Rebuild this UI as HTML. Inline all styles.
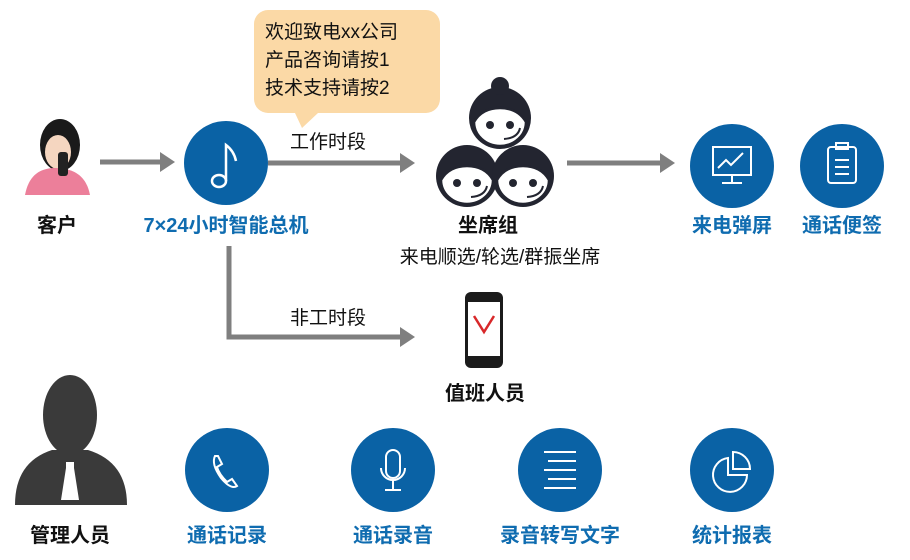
<!DOCTYPE html>
<html><head><meta charset="utf-8"><style>
html,body{margin:0;padding:0;background:#fff;}
svg{display:block;}
text{font-family:"Liberation Sans","Noto Sans CJK SC",sans-serif;}
.b{font-weight:bold;font-size:20px;text-anchor:middle;}
.k{fill:#111;}
.bl{fill:#0f6cb0;}
.n{font-size:19px;fill:#111;}
</style></head><body>
<svg width="910" height="560" viewBox="0 0 910 560" xmlns="http://www.w3.org/2000/svg">
<defs>
<marker id="ar" markerWidth="4" markerHeight="4" refX="2" refY="2" orient="auto" markerUnits="strokeWidth"><path d="M0,0 L3,2 L0,4z" fill="#7f7f7f"/></marker>
</defs>
<path d="M268,10 H426 a14,14 0 0 1 14,14 V99 a14,14 0 0 1 -14,14 H318 L302,128 L295,113 H268 a14,14 0 0 1 -14,-14 V24 a14,14 0 0 1 14,-14z" fill="#fbd9a6"/>
<text class="n" x="265" y="38">欢迎致电xx公司</text>
<text class="n" x="265" y="66">产品咨询请按1</text>
<text class="n" x="265" y="94">技术支持请按2</text>

<g>
<ellipse cx="60" cy="145" rx="20" ry="26" fill="#1a1a1a"/>
<ellipse cx="58" cy="152" rx="13" ry="17" fill="#f5d6c0"/>
<path d="M25,195 Q30,168 55,168 Q85,168 90,195z" fill="#ec7f9a"/>
<rect x="58" y="152" width="10" height="24" rx="3" fill="#222"/>
</g>
<text class="b k" x="57" y="232">客户</text>

<g stroke="#7f7f7f" stroke-width="5" fill="none" marker-end="url(#ar)">
<line x1="100" y1="162" x2="170" y2="162"/>
<line x1="268" y1="163" x2="410" y2="163"/>
<line x1="567" y1="163" x2="670" y2="163"/>
<polyline points="229,246 229,337 410,337"/>
</g>
<text class="n" x="290" y="148">工作时段</text>
<text class="n" x="290" y="324">非工时段</text>

<circle cx="226" cy="163" r="42" fill="#0a62a5"/>
<ellipse cx="219" cy="181" rx="7" ry="6" stroke="#fff" stroke-width="2.5" fill="none"/>
<path d="M226,181 V145 q8,6 10,16" stroke="#fff" stroke-width="2.5" fill="none"/>
<text class="b bl" x="226" y="232">7×24小时智能总机</text>

<!-- agents -->
<g fill="#232530">
<circle cx="500" cy="118" r="31"/><circle cx="500" cy="86" r="9"/>
<circle cx="467" cy="176" r="31"/><circle cx="523" cy="176" r="31"/>
</g>
<g fill="#fff" stroke="#232530" stroke-width="2.5">
<path d="M474,122 q8,-14 26,-14 q18,0 26,14 a26,24 0 0 1 -52,0z"/>
<path d="M441,180 q8,-14 26,-14 q18,0 26,14 a26,24 0 0 1 -52,0z"/>
<path d="M497,180 q8,-14 26,-14 q18,0 26,14 a26,24 0 0 1 -52,0z"/>
</g>
<g fill="#232530"><circle cx="490" cy="125" r="4"/><circle cx="510" cy="125" r="4"/>
<circle cx="457" cy="183" r="4"/><circle cx="477" cy="183" r="4"/>
<circle cx="513" cy="183" r="4"/><circle cx="533" cy="183" r="4"/></g>
<g stroke="#232530" stroke-width="2" fill="none"><path d="M520,128 q-2,10 -16,11"/><path d="M487,186 q-2,10 -16,11"/><path d="M543,186 q-2,10 -16,11"/></g>
<text class="b k" x="488" y="232">坐席组</text>
<text class="n" x="500" y="263" text-anchor="middle">来电顺选/轮选/群振坐席</text>

<circle cx="732" cy="166" r="42" fill="#0a62a5"/>
<g stroke="#fff" stroke-width="2" fill="none"><rect x="713" y="147" width="38" height="28"/><line x1="732" y1="175" x2="732" y2="183"/><line x1="722" y1="183" x2="742" y2="183"/><polyline points="718,168 726,160 731,165 743,153"/></g>
<circle cx="842" cy="166" r="42" fill="#0a62a5"/>
<g stroke="#fff" stroke-width="2" fill="none"><rect x="828" y="147" width="28" height="36" rx="3"/><rect x="836" y="143" width="12" height="6"/><line x1="835" y1="160" x2="849" y2="160"/><line x1="835" y1="167" x2="849" y2="167"/><line x1="835" y1="174" x2="849" y2="174"/></g>
<text class="b bl" x="732" y="232">来电弹屏</text>
<text class="b bl" x="842" y="232">通话便签</text>

<rect x="465" y="292" width="38" height="76" rx="6" fill="#1b1b1b"/>
<rect x="468" y="302" width="32" height="54" fill="#fff"/>
<path d="M474,316 L484,332 L494,316" stroke="#d8282a" stroke-width="2.5" fill="none"/>
<text class="b k" x="485" y="400">值班人员</text>

<ellipse cx="70" cy="415" rx="27" ry="40" fill="#3a3a3a"/>
<path d="M15,505 Q15,462 52,450 L88,450 Q127,462 127,505z" fill="#3a3a3a"/>
<path d="M66,468 L74,468 L79,500 L61,500z M66,462 h8 v6 h-8z" fill="#fff"/>
<text class="b k" x="70" y="542">管理人员</text>

<g fill="#0a62a5"><circle cx="227" cy="470" r="42"/><circle cx="393" cy="470" r="42"/><circle cx="560" cy="470" r="42"/><circle cx="732" cy="470" r="42"/></g>
<path d="M215,456 q-4,8 6,22 q10,12 16,8 l-5,-7 l-5,3 q-8,-8 -10,-15 l5,-3 l-4,-8z" stroke="#fff" stroke-width="2" fill="none"/>
<g stroke="#fff" stroke-width="2" fill="none"><rect x="386" y="450" width="14" height="28" rx="7"/><path d="M381,468 a12,12 0 0 0 24,0"/><line x1="393" y1="480" x2="393" y2="490"/><line x1="385" y1="490" x2="401" y2="490"/></g>
<g stroke="#fff" stroke-width="2"><line x1="544" y1="452" x2="576" y2="452"/><line x1="548" y1="461" x2="576" y2="461"/><line x1="544" y1="470" x2="576" y2="470"/><line x1="548" y1="479" x2="576" y2="479"/><line x1="544" y1="488" x2="576" y2="488"/></g>
<g stroke="#fff" stroke-width="2" fill="none"><path d="M728,458 a17,17 0 1 0 19,17 h-19z"/><path d="M733,452 v17 h17 a17,17 0 0 0 -17,-17z"/></g>
<text class="b bl" x="227" y="542">通话记录</text>
<text class="b bl" x="393" y="542">通话录音</text>
<text class="b bl" x="560" y="542">录音转写文字</text>
<text class="b bl" x="732" y="542">统计报表</text>
</svg>
</body></html>
